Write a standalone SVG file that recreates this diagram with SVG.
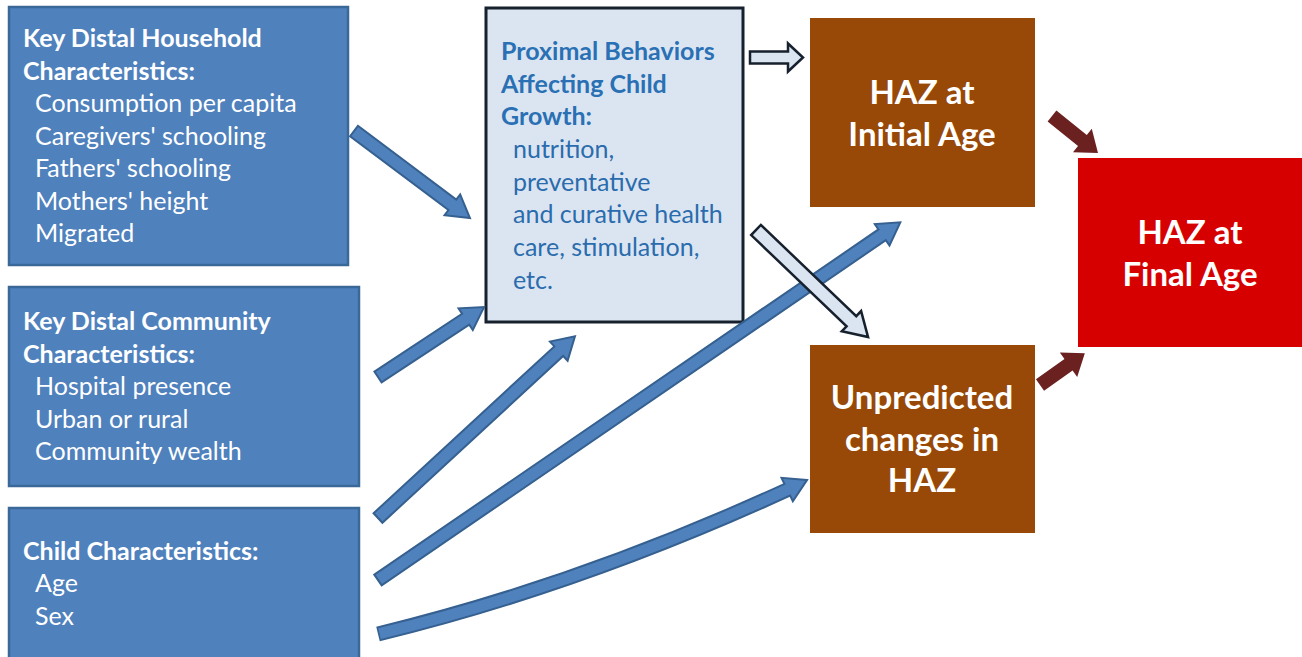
<svg xmlns="http://www.w3.org/2000/svg" width="1302" height="657" viewBox="0 0 1302 657">
<style>
.dist{fill:#4f81bd;stroke:#3a6898;stroke-width:2.5}
.prox{fill:#dbe5f1;stroke:#17212e;stroke-width:3}
.brown{fill:#984807}
.red{fill:#d70000}
.wb{font-family:Lato,"Liberation Sans",sans-serif;font-weight:bold;font-size:25px;fill:#fff}
.wr{font-family:Lato,"Liberation Sans",sans-serif;font-size:25px;fill:#fff}
.pb{font-family:Lato,"Liberation Sans",sans-serif;font-weight:bold;font-size:25px;fill:#2a70b4}
.pr{font-family:Lato,"Liberation Sans",sans-serif;font-size:25px;fill:#2a6cad}
.big{font-family:Lato,"Liberation Sans",sans-serif;font-weight:bold;font-size:33px;fill:#fff;text-anchor:middle}
.blue{fill:#4f81bd;stroke:#35608f;stroke-width:2}
.hollow{fill:#dbe5f1;stroke:#17212e;stroke-width:2.5}
.dred{fill:#6c2121}
</style>
<g id="household">
<rect class="dist" x="9" y="7" width="339" height="258"/>
<text class="wb" x="23" y="47">Key Distal Household</text>
<text class="wb" x="23" y="80">Characteristics:</text>
<text class="wr" x="35" y="112">Consumption per capita</text>
<text class="wr" x="35" y="145">Caregivers' schooling</text>
<text class="wr" x="35" y="177">Fathers' schooling</text>
<text class="wr" x="35" y="210">Mothers' height</text>
<text class="wr" x="35" y="242">Migrated</text>
</g>
<g id="community">
<rect class="dist" x="9" y="287" width="350" height="199"/>
<text class="wb" x="23" y="330">Key Distal Community</text>
<text class="wb" x="23" y="363">Characteristics:</text>
<text class="wr" x="35" y="395">Hospital presence</text>
<text class="wr" x="35" y="428">Urban or rural</text>
<text class="wr" x="35" y="460">Community wealth</text>
</g>
<g id="child">
<rect class="dist" x="9" y="508" width="350" height="160"/>
<text class="wb" x="23" y="560">Child Characteristics:</text>
<text class="wr" x="35" y="592">Age</text>
<text class="wr" x="35" y="625">Sex</text>
</g>
<g id="proximal">
<rect class="prox" x="486" y="8" width="257" height="314"/>
<text class="pb" x="501" y="60">Proximal Behaviors</text>
<text class="pb" x="501" y="93">Affecting Child</text>
<text class="pb" x="501" y="125">Growth:</text>
<text class="pr" x="513" y="158">nutrition,</text>
<text class="pr" x="513" y="191">preventative</text>
<text class="pr" x="513" y="223">and curative health</text>
<text class="pr" x="513" y="256">care, stimulation,</text>
<text class="pr" x="513" y="289">etc.</text>
</g>
<g id="haz-initial">
<rect class="brown" x="810" y="18" width="225" height="189"/>
<text class="big" x="922" y="104">HAZ at</text>
<text class="big" x="922" y="146">Initial Age</text>
</g>
<g id="unpredicted">
<rect class="brown" x="810" y="345" width="225" height="188"/>
<text class="big" x="922" y="409">Unpredicted</text>
<text class="big" x="922" y="451">changes in</text>
<text class="big" x="922" y="492">HAZ</text>
</g>
<g id="haz-final">
<rect class="red" x="1078" y="158" width="224" height="189"/>
<text class="big" x="1190" y="244">HAZ at</text>
<text class="big" x="1190" y="286">Final Age</text>
</g>
<g id="connectors">
<path class="blue" transform="translate(354,131) rotate(36.9)" d="M0,-6.5 H123 V-13 L145,0 L123,13 V6.5 H0 Z"/>
<path class="blue" transform="translate(378,377) rotate(-33.4)" d="M0,-6.5 H105 V-13 L127,0 L105,13 V6.5 H0 Z"/>
<path class="blue" transform="translate(378,518) rotate(-42.7)" d="M0,-6.5 H246 V-13 L268,0 L246,13 V6.5 H0 Z"/>
<path class="blue" transform="translate(378,580) rotate(-34.4)" d="M0,-6.5 H611 V-13 L633,0 L611,13 V6.5 H0 Z"/>
<path d="M378,634 Q580,585 789,489" fill="none" stroke="#35608f" stroke-width="15"/>
<path class="blue" transform="translate(807,480) rotate(-25.8)" d="M0,0 L-22,-13 L-22,13 Z"/>
<path d="M379.5,633.6 Q580,585 791,488" fill="none" stroke="#4f81bd" stroke-width="11"/>
<path class="hollow" transform="translate(750,57.5) rotate(0)" d="M0,-6 H38 V-14 L53,0 L38,14 V6 H0 Z"/>
<path class="hollow" transform="translate(756,230) rotate(43.7)" d="M0,-7 H132 V-14 L155,0 L132,14 V7 H0 Z"/>
<path class="dred" transform="translate(1052,116) rotate(38.8)" d="M0,-7 H39 V-15 L59,0 L39,15 V7 H0 Z"/>
<path class="dred" transform="translate(1040,385) rotate(-35.4)" d="M0,-7 H35 V-15 L55,0 L35,15 V7 H0 Z"/>
</g>
</svg>
